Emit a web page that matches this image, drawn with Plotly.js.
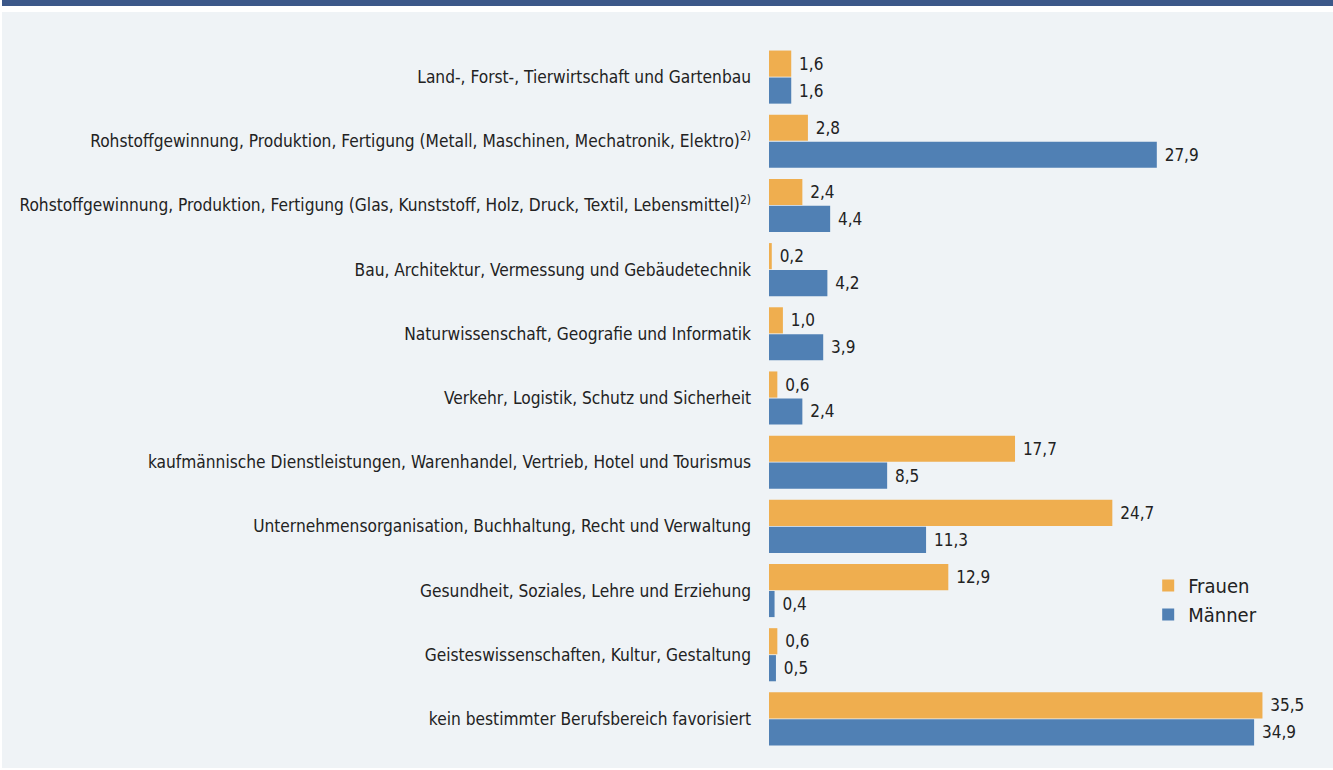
<!DOCTYPE html>
<html><head><meta charset="utf-8">
<script src="https://cdn.plot.ly/plotly-3.0.1.min.js"></script>
<style>
html,body{margin:0;padding:0;background:#fff;}
#wrap{position:relative;width:1333px;height:770px;background:#fff;overflow:hidden;}
#topbar{position:absolute;left:2px;top:0;width:1331px;height:6px;background:#3c5889;}
#panel{position:absolute;left:2px;top:12px;width:1331px;height:756px;background:#eff3f6;}
#chart{position:absolute;left:0;top:0;width:1333px;height:770px;}
</style></head>
<body><div id="wrap"><div id="topbar"></div><div id="panel"></div><div id="chart"></div></div>
<script>
const categories = [
  "Land-, Forst-, Tierwirtschaft und Gartenbau",
  "Rohstoffgewinnung, Produktion, Fertigung (Metall, Maschinen, Mechatronik, Elektro)<sup>2)</sup>",
  "Rohstoffgewinnung, Produktion, Fertigung (Glas, Kunststoff, Holz, Druck, Textil, Lebensmittel)<sup>2)</sup>",
  "Bau, Architektur, Vermessung und Gebäudetechnik",
  "Naturwissenschaft, Geografie und Informatik",
  "Verkehr, Logistik, Schutz und Sicherheit",
  "kaufmännische Dienstleistungen, Warenhandel, Vertrieb, Hotel und Tourismus",
  "Unternehmensorganisation, Buchhaltung, Recht und Verwaltung",
  "Gesundheit, Soziales, Lehre und Erziehung",
  "Geisteswissenschaften, Kultur, Gestaltung",
  "kein bestimmter Berufsbereich favorisiert"
];
const frauen = [1.6, 2.8, 2.4, 0.2, 1.0, 0.6, 17.7, 24.7, 12.9, 0.6, 35.5];
const maenner = [1.6, 27.9, 4.4, 4.2, 3.9, 2.4, 8.5, 11.3, 0.4, 0.5, 34.9];

const FONT = "DejaVu Sans Condensed, Liberation Sans Narrow, sans-serif";
const common = {
  type: 'bar', orientation: 'h', y: categories,
  textposition: 'outside', cliponaxis: false,
  texttemplate: '\u00a0%{x:.1f}',
  textfont: {family: FONT, size: 17, color: '#222'},
  hoverinfo: 'skip'
};
const data = [
  Object.assign({}, common, {name: 'Frauen', x: frauen, marker: {color: '#efae4f'}}),
  Object.assign({}, common, {name: 'Männer', x: maenner, marker: {color: '#5080b4'}})
];
const layout = {
  width: 1333, height: 770,
  margin: {l: 769, r: 8, t: 45, b: 19},
  paper_bgcolor: 'rgba(0,0,0,0)', plot_bgcolor: 'rgba(0,0,0,0)',
  separators: ',.',
  barmode: 'group', bargap: 0.16, bargroupgap: 0.03,
  font: {family: FONT, size: 17.2, color: '#222'},
  xaxis: {range: [0, 40], visible: false, fixedrange: true},
  yaxis: {range: [10.5, -0.5], showgrid: false, zeroline: false, showline: false,
          ticks: '', ticklabelstandoff: 17, tickfont: {family: FONT, size: 17.2, color: '#222'}, fixedrange: true},
  showlegend: true,
  legend: {x: 0.682, xanchor: 'left', y: 0.262, yanchor: 'top', bgcolor: 'rgba(0,0,0,0)',
           font: {family: FONT, size: 20, color: '#222'}, itemwidth: 30, tracegroupgap: 0}
};
Plotly.newPlot('chart', data, layout, {displayModeBar: false, staticPlot: true});
</script></body></html>
